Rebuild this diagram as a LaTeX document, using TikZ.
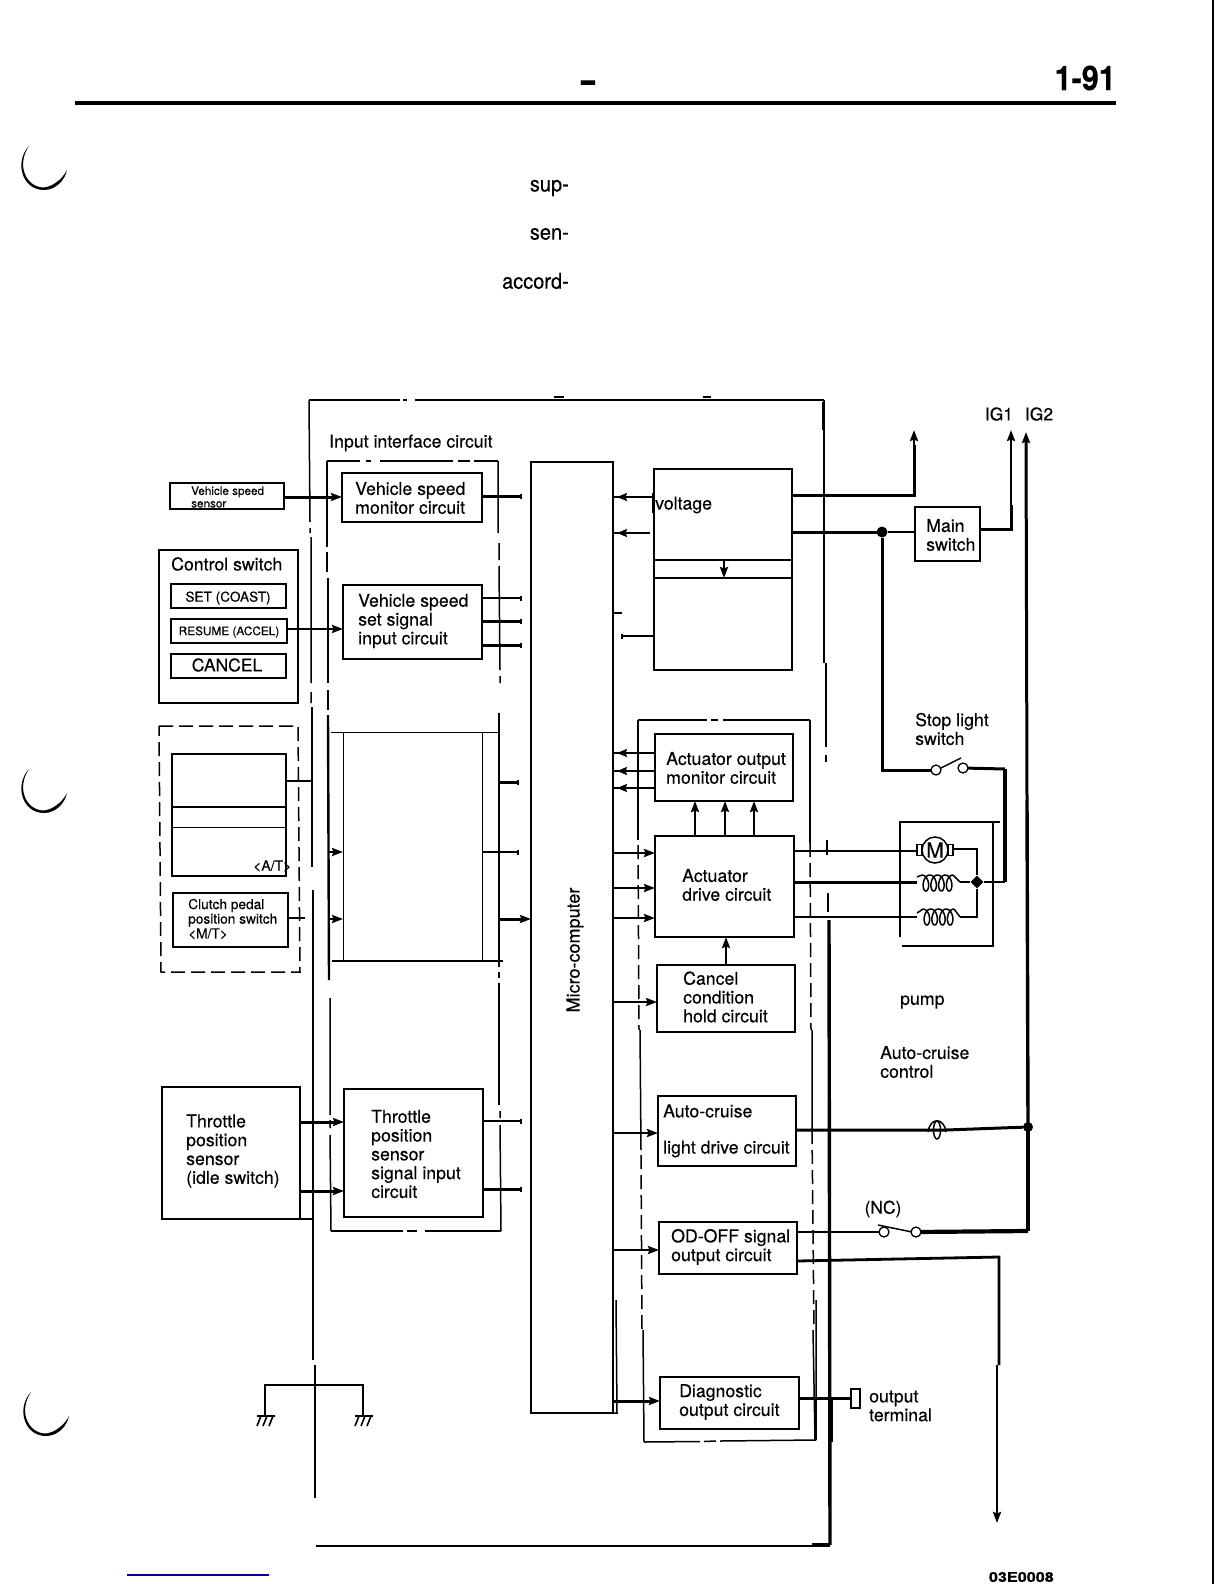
\documentclass[tikz,border=0pt]{standalone}
\usepackage{fontspec}
\setmainfont[FakeBold=0.3]{TeX Gyre Heros}
\usetikzlibrary{arrows.meta,decorations.markings,shapes.geometric}
\newcommand\fsz[2]{\fontsize{#1}{#2}\selectfont}
\newcommand\bx[5]{\node[blk,minimum width={(#4-#2)*1pt},minimum height={(#5-#3)*1pt}] (#1) at ({(#2+#4)/2},{(#3+#5)/2}) {};}
\newcommand\crescent[2]{\fill[black,shift={(#1,#2)}] (9,0) .. controls (-6,16) and (2,44) .. (24,44) .. controls (36,44) and (45,34) .. (47,24) .. controls (42,34) and (32,40.5) .. (24,41.5) .. controls (6,41.5) and (-4,19) .. (9,0) -- cycle;}
\newcommand\coilat[2]{\draw[thin2,samples=130,domain=180:1620,variable=\t,smooth] plot ({#1+(\t-180)/1440*31-4.5*sin(\t)},{#2+8*cos(\t)});}
\newcommand\gnd[2]{\draw[line width=1.6pt] (#1-8,#2) -- (#1+10,#2) (#1-4,#2) -- (#1-8,#2+10) (#1+2,#2) -- (#1-2,#2+10) (#1+8,#2) -- (#1+4,#2+10);}
\tikzset{
  x=1pt,y=-1pt,
  blk/.style={rectangle,draw,line width=1.5pt,inner sep=0pt,outer sep=0pt},
  lbl/.style={anchor=west,align=left,inner sep=0pt,yshift=-1pt,font=\fsz{17.7}{18.8}},
  thin2/.style={line width=1.5pt},
  wire/.style={line width=2.4pt},
  hvy/.style={line width=3.4pt},
  frame/.style={line width=1.5pt},
  hair/.style={line width=1pt},
  frameb/.style={line width=2.4pt},
  fdash/.style={line width=1.5pt,dash pattern=on 14pt off 6pt},
  ptip/.style={-{Stealth[length=11pt,width=8pt,inset=1.5pt]}},
  midtip/.style={decoration={markings,mark=at position -4pt with {\arrow{Stealth[length=10pt,width=8pt,inset=1.5pt]}}},postaction=decorate},
  stub/.style={-{Bar[width=5pt,line width=2pt]}},
  contact/.style={circle,draw,fill=white,line width=1.3pt,inner sep=0pt,outer sep=0pt,minimum size=10pt},
  junction/.style={circle,fill=black,inner sep=0pt,outer sep=0pt,minimum size=11pt},
}
\begin{document}
\begin{tikzpicture}
\useasboundingbox (0,0) rectangle (1224,1584);
% page furniture
\draw[line width=4pt] (75,103) -- (1116,103);
\draw[line width=2.5pt] (1213,0) -- (1213,1584);
\node[inner sep=0pt,anchor=east,xscale=.9,font=\fsz{34}{36}\bfseries] (pg) at (1116,78) {1-91};
\node[inner sep=0pt,yscale=1.7,font=\fsz{25}{27}\bfseries] (dsh) at (588,87) {–};
\node[inner sep=0pt,anchor=east,yscale=1.08,font=\fsz{20}{22}] (p1) at (569,188) {sup-};
\node[inner sep=0pt,anchor=east,yscale=1.08,font=\fsz{20}{22}] (p2) at (569,234) {sen-};
\node[inner sep=0pt,anchor=east,yscale=1.08,font=\fsz{20}{22}] (p3) at (569,281) {accord-};
\crescent{20}{146}\crescent{20}{769}\crescent{22}{1392}
\node[inner sep=0pt,anchor=east,xscale=1.2,font=\fsz{13.5}{14}\bfseries] (code) at (1054,1577) {03E0008};
\draw[line width=1.5pt,color={rgb,255:red,10;green,0;blue,140}] (127,1575) -- (269,1575);

% ECU frame
\draw[frame] (309,400) -- (400,400) (403,400) -- (407,400) (415,400) -- (824,400);
\draw[frame] (554,397) -- (564,397) (703,397) -- (711,397);
\draw[frame] (309,400) -- (310,522) (310,528) -- (310,533) (311,537) -- (311,683) (311,692) -- (311,703);
\draw[frameb] (312,707) -- (312,867);
\draw[wire] (313,890) -- (313,1360);
\draw[frame] (315,1365) -- (315,1498);
\draw[wire] (316,1546) -- (830,1546);
\draw[hvy] (812,1544.5) -- (830,1544.5);
\draw[frame] (824,400) -- (824,663);
\draw[line width=2.5pt] (823,402) -- (823,430);
\draw[wire] (826,663) -- (826,747) (826,755) -- (826,762) (827,840) -- (827,855) (828,893) -- (828,912);
\draw[hvy] (829,920) -- (830,1545);
\draw[frame] (832,1400) -- (832,1442);

% input interface frame
\draw[frame] (327,461) -- (360,461) (366,461) -- (371,461) (380,461) -- (453,461) (458,461) -- (470,461) (474,461) -- (498,461);
\draw[frame] (327,461) -- (327,547) (327,552) -- (327,572) (328,578) -- (328,683) (328,690) -- (328,710);
\draw[frameb] (328,715) -- (329,980);
\draw[frame] (330,998) -- (330,1115) (330,1120) -- (330,1128) (330,1135) -- (331,1231);
\draw[frame] (331,1231) -- (403,1231) (407,1231) -- (417,1231) (425,1231) -- (501,1231);
\draw[frame] (498,461) -- (498,533) (499,543) -- (499,560) (499,566) -- (500,670) (500,676) -- (500,683);
\draw[wire] (499,713) -- (499,967);
\draw[wire] (499,972) -- (499,978) (499,983) -- (499,1000);
\draw[line width=2.8pt] (499,1000) -- (499,1105);
\draw[frame] (500,1111) -- (500,1118) (500,1125) -- (501,1231);

% hidden block inside the interface
\draw[hair] (331,732) -- (498,732) (343,732) -- (343,960) (482,732) -- (482,960);
\draw[frameb] (332,961) -- (503,961);

% output frame
\draw[frame] (638,720) -- (707,720) (711,720) -- (718,720) (723,720) -- (810,720);
\draw[frame] (638,720) -- (638,840) (810,720) -- (810,843);
\draw[fdash] (638,845) -- (639,1030) (810,843) -- (811,1030);
\draw[frame] (640,1030) -- (641,1150) (812,1030) -- (812,1130);
\draw[fdash] (641,1155) -- (642,1330) (812,1130) -- (814,1330);
\draw[frame] (643,1330) -- (644,1442) (813,1330) -- (815,1440) (816,1300) -- (816,1440);
\draw[frame] (644,1442) -- (700,1441.5) (704,1441.5) -- (716,1441) (720,1441) -- (816,1440);

% left blocks
\bx{vss}{170}{483}{284}{509}
\node[lbl,font=\fsz{11.7}{12.6}] (tvss) at (191,496) {Vehicle speed\\sensor};
\bx{cs}{159}{550}{298}{703}
\node[lbl,yshift=1pt] (tcs) at (171,564) {Control switch};
\bx{set}{171}{584}{286}{608}
\node[inner sep=0pt,font=\fsz{13.6}{15}] (tset) at (228,598) {SET (COAST)};
\bx{res}{171}{619}{287}{643}
\node[inner sep=0pt,font=\fsz{11.8}{13}] (tres) at (229,632) {RESUME (ACCEL)};
\bx{can}{171}{654}{286}{678}
\node[inner sep=0pt,font=\fsz{17.5}{19}] (tcan) at (227,665) {CANCEL};
\draw[frame,dash pattern=on 14pt off 6pt] (159,726) -- (298,726) -- (300,972) -- (161,972) -- cycle;
\bx{ats}{172}{754}{286}{876}
\draw[wire] (ats.west |- 0,807) -- (ats.east |- 0,807);
\draw[hair] (ats.west |- 0,827) -- (ats.east |- 0,827);
\node[lbl,font=\fsz{14}{15},yshift=1pt] (tat) at (253,866) {<A/T>};
\bx{cpp}{173}{893}{288}{947}
\node[lbl,font=\fsz{13.7}{14.6},yshift=1pt] (tcpp) at (188,919) {Clutch pedal\\position switch\\<M/T>};
\bx{tps}{162}{1087}{300}{1219}
\draw[wire] (tps.south east) -- (313,1219);
\node[lbl] (ttps) at (186,1150) {Throttle\\position\\sensor\\(idle switch)};

% interface blocks
\node[lbl] (tif) at (329,442) {Input interface circuit};
\bx{vsm}{342}{473}{482}{522}
\node[lbl] (tvsm) at (355,497) {Vehicle speed\\monitor circuit};
\bx{vset}{343}{585}{482}{659}
\node[lbl] (tvset) at (358,620) {Vehicle speed\\set signal\\input circuit};
\bx{tpi}{344}{1089}{483}{1217}
\node[lbl,yshift=1pt] (ttpi) at (371,1154) {Throttle\\position\\sensor\\signal input\\circuit};

% micro-computer
\bx{mc}{531}{462}{613}{1413}
\draw[line width=2.2pt] (613,461) -- (613,627);
\draw[frame] (616,1300) -- (617,1413) -- (610,1413);
\node[inner sep=0pt,rotate=90,font=\fsz{18}{20}] (tmc) at (575,950) {Micro-computer};

% voltage block
\bx{vr}{654}{469}{792}{670}
\draw[wire] (vr.west |- 0,560) -- (vr.east |- 0,560) (vr.west |- 0,578) -- (vr.east |- 0,578);
\coordinate (vra) at (724,560); \coordinate (vrb) at (724,578);
\draw[wire,ptip] (vra) -- (vrb);
\node[lbl] (tvr) at (655,504) {voltage};
\draw[frame] (653,493) -- (653,513);

% right blocks
\bx{aom}{655}{734}{793}{801}
\node[lbl] (taom) at (666,767) {Actuator output\\monitor circuit};
\bx{adr}{655}{836}{794}{937}
\node[lbl,yshift=1pt] (tadr) at (682,885) {Actuator\\drive circuit};
\bx{chc}{657}{965}{795}{1032}
\node[lbl,yshift=1pt] (tchc) at (683,997) {Cancel\\condition\\hold circuit};
\bx{acl}{658}{1096}{796}{1166}
\node[lbl,yshift=1pt] (tacl) at (663,1111) {Auto-cruise};
\node[lbl] (tacl2) at (663,1148) {light drive circuit};
\bx{od}{659}{1222}{797}{1274}
\node[lbl] (tod) at (671,1246) {OD-OFF signal\\output circuit};
\bx{dg}{660}{1377}{799}{1429}
\node[lbl] (tdg) at (679,1401) {Diagnostic\\output circuit};
\bx{ms}{915}{507}{980}{561}
\node[lbl] (tms) at (926,534) {Main\\switch};
\node[inner sep=0pt,font=\fsz{17.5}{19}] (ig1) at (999,414) {IG1};
\node[inner sep=0pt,font=\fsz{17.5}{19}] (ig2) at (1039,414) {IG2};
\node[lbl,yshift=2pt] (tsl) at (915,730) {Stop light\\switch};
\node[lbl] (tpu) at (900,1001) {pump};
\node[lbl,yshift=1pt] (tac) at (880,1062) {Auto-cruise\\control};
\node[inner sep=0pt,font=\fsz{17.5}{19}] (tnc) at (883,1209) {(NC)};
\node[lbl] (tot) at (869,1405) {output\\terminal};

% left connectors
\draw[line width=3pt,ptip] (vss.east |- 0,497) -- (vsm.west |- 0,497);
\draw[wire,ptip] (res.east |- 0,629) -- (vset.west |- 0,629);
\coordinate (atw) at (312,781); \coordinate (cpw) at (305,918);
\draw[line width=2.8pt] (ats.east |- atw) -- (atw);
\draw[line width=2.8pt] (cpp.east |- cpw) -- (cpw);
\draw[line width=3pt,ptip] (tps.east |- 0,1122) -- (tpi.west |- 0,1122);
\draw[line width=3pt,ptip] (tps.east |- 0,1191) -- (tpi.west |- 0,1191);
\coordinate (ha) at (329,852); \coordinate (hb) at (329,919);
\coordinate (hc) at (343,852); \coordinate (hd) at (343,919);
\draw[wire,ptip] (ha) -- (hc);
\draw[wire,ptip] (hb) -- (hd);

% stubs into the micro-computer
\coordinate (s1) at (522,496); \coordinate (s2) at (522,598); \coordinate (s3) at (522,621); \coordinate (s4) at (522,645);
\coordinate (s5) at (519,782); \coordinate (s6) at (519,852); \coordinate (s7) at (499,919);
\coordinate (s8) at (522,1121); \coordinate (s9) at (522,1189); \coordinate (s0) at (499,782); \coordinate (h6) at (482,852);
\draw[line width=3pt,stub] (vsm.east |- s1) -- (s1);
\draw[wire,stub] (vset.east |- s2) -- (s2);
\draw[line width=3pt,stub] (vset.east |- s3) -- (s3);
\draw[line width=3pt,stub] (vset.east |- s4) -- (s4);
\draw[line width=3pt,stub] (s0) -- (s5);
\draw[line width=2.8pt,stub] (h6) -- (s6);
\draw[line width=3pt,ptip] (s7) -- (mc.west |- s7);
\draw[wire,stub] (tpi.east |- s8) -- (s8);
\draw[line width=3pt,stub] (tpi.east |- s9) -- (s9);

% micro-computer side connectors
\draw[line width=2.8pt,midtip] (vr.west |- 0,497) -- (mc.east |- 0,497);
\coordinate (vq) at (650,533);
\draw[line width=2.8pt,midtip] (vq) -- (mc.east |- vq);
\coordinate (vs) at (622,613);
\draw[frame] (mc.east |- vs) -- (vs);
\coordinate (vt) at (621,636);
\draw[wire,stub] (vr.west |- vt) -- (vt);
\foreach \yy in {753,771,788} {\draw[line width=2.8pt,midtip] (aom.west |- 0,\yy) -- (mc.east |- 0,\yy);}
\foreach \yy in {853,888,918} {\draw[wire,ptip] (mc.east |- 0,\yy) -- (adr.west |- 0,\yy);}
\draw[wire,ptip] (mc.east |- 0,1002) -- (chc.west |- 0,1002);
\draw[line width=2.8pt,ptip] (mc.east |- 0,1133) -- (acl.west |- 0,1133);
\draw[wire,ptip] (mc.east |- 0,1250) -- (od.west |- 0,1250);
\draw[line width=3pt,ptip] (mc.east |- 0,1401) -- (dg.west |- 0,1401);

% vertical arrows between right blocks
\foreach \xx in {695,725,754} {\draw[line width=2.8pt,ptip] (\xx,0 |- adr.north) -- (\xx,0 |- aom.south);}
\draw[wire,ptip] (726,0 |- chc.north) -- (726,0 |- adr.south);

% power side
\coordinate (p1a) at (914,495); \coordinate (p1t) at (914,430);
\draw[line width=3pt] (vr.east |- p1a) -- (p1a) -- (914,445);
\draw[wire,ptip] (914,447) -- (p1t);
\node[junction] (j1) at (882,532) {};
\draw[line width=3pt] (vr.east |- j1) -- (j1);
\draw[wire] (j1) -- (ms.west |- j1);
\coordinate (sw1) at (1011,529); \coordinate (ig1t) at (1011,430);
\draw[line width=3pt] (ms.east |- sw1) -- (sw1) -- (1011,505);
\draw[wire,ptip] (1011,505) -- (ig1t);
\coordinate (ig2t) at (1026,432);
\node[junction,minimum size=10pt] (j3) at (1028,1127) {};
\draw[line width=3pt,ptip] (1027,800) -- (ig2t);
\draw[line width=3.4pt] (1027,800) -- (j3.center);
\draw[line width=4.2pt] (j3.center) -- (1028,1231);

% stop light switch and pump
\node[contact] (st1) at (936,770) {};
\node[contact] (st2) at (963,768) {};
\coordinate (st3) at (882,770); \coordinate (st4) at (1005,769);
\draw[line width=3pt] (j1) -- (st3) -- (st1);
\draw[thin2] (941,768) -- (961,758);
\draw[line width=3pt] (st2) -- (st4);
\draw[frame] (900,937) -- (900,822) -- (1000,822) (993,822) -- (993,946) -- (902,946);
\node[circle,draw,line width=1.5pt,fill=white,inner sep=0pt,minimum size=26pt,font=\fsz{21}{22}] (mot) at (935,850) {M};
\node[blk,fill=white,minimum width=5pt,minimum height=11pt] (mbl) at (919.5,850) {};
\node[blk,fill=white,minimum width=5pt,minimum height=11pt] (mbr) at (950.5,850) {};
\draw[thin2] (mbl.east) -- (mot.west) (mot.east) -- (mbr.west);
\coordinate (c2a) at (917,882); \coordinate (c2b) at (960,882);
\coordinate (c3a) at (917,917); \coordinate (c3b) at (960,917);
\coilat{922}{883}\coilat{923}{917}
\draw[thin2] (917,877) -- (922,875) (953,875) -- (960,882) (917,913) -- (923,909) (954,909) -- (960,917);
\node[diamond,fill=black,inner sep=0pt,minimum size=13pt] (j2) at (977,882) {};
\coordinate (mr) at (977,849); \coordinate (cr) at (977,917);
\draw[wire] (mbr.east |- mr) -- (mr) -- (j2);
\draw[wire] (c3b) -- (cr) -- (j2);
\draw[wire] (c2b) -- (j2);
\coordinate (j2r) at (1005,882);
\draw[wire] (j2) -- (j2r);
\draw[line width=3.6pt] (j2r) -- (st4);
\draw[wire] (adr.east |- 0,851) -- (mbl.west |- 0,851);
\draw[line width=3pt] (adr.east |- c2a) -- (c2a);
\draw[line width=2.8pt] (adr.east |- c3a) -- (c3a);

% lamp
\coordinate (lampl) at (928,1130); \coordinate (lampr) at (946,1130);
\draw[line width=3pt] (acl.east |- lampl) -- (lampl) -- (lampr) -- (j3);
\draw[thin2] (937,1130) ellipse (3.5 and 9);
\draw[thin2] (928,1132) .. controls (930,1117) and (944,1117) .. (946,1132);

% NC switch
\node[contact] (nc1) at (884,1232) {};
\node[contact] (nc2) at (916,1232) {};
\draw[wire] (od.east |- nc1) -- (nc1);
\draw[line width=4.2pt] (nc2) -- (1028,1231);
\draw[thin2] (878,1225) -- (912,1232);

% OD-OFF to the bottom
\coordinate (oda) at (999,1257); \coordinate (odb) at (999,1365); \coordinate (odc) at (997,1365); \coordinate (odt) at (997,1523);
\draw[line width=2.8pt] (od.east |- 0,1261) -- (oda) -- (odb);
\draw[wire,ptip] (odc) -- (odt);

% diagnostic terminal
\node[blk,minimum width=9pt,minimum height=19pt] (term) at (855.5,1398.5) {};
\draw[line width=2.8pt] (dg.east |- term) -- (term);

% ground
\coordinate (g1) at (265,1415); \coordinate (g2) at (363,1415);
\draw[line width=2.8pt] (g1) -- (265,1385) -- (363,1385) -- (g2);
\gnd{265}{1416}\gnd{363}{1416}
\end{tikzpicture}
\end{document}
